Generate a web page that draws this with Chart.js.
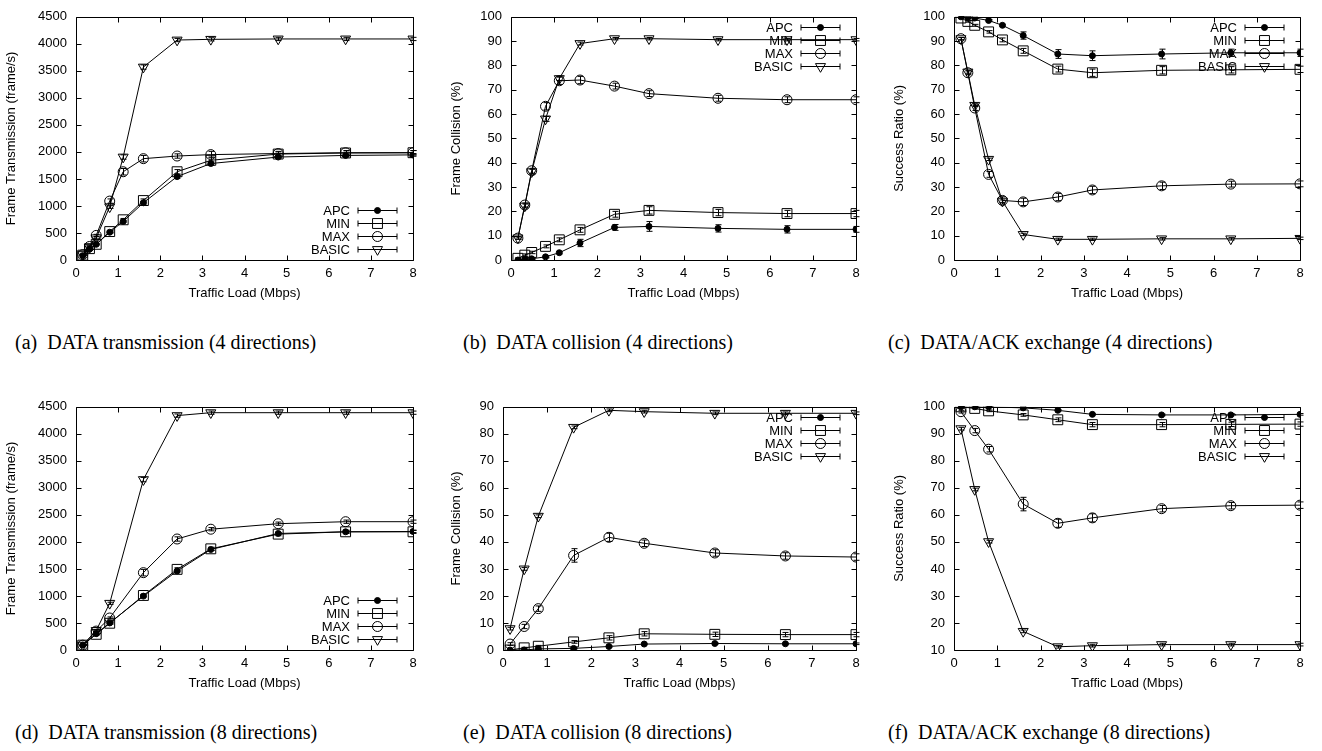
<!DOCTYPE html>
<html>
<head>
<meta charset="utf-8">
<title>APC traffic load results</title>
<script src="https://cdn.jsdelivr.net/npm/chart.js@4.4.1/dist/chart.umd.min.js"></script>
<style>
    body { margin: 0; background: #fff; width: 1322px; height: 751px; position: relative; overflow: hidden; }
    canvas { position: absolute; }
    .caption { position: absolute; font-family: "Liberation Serif", "Times New Roman", serif; font-size: 20px; line-height: 20px; color: #000; white-space: nowrap; }
</style>
</head>
<body>
<canvas id="chartA" width="430" height="310" style="left:0px;top:0px"></canvas>
<canvas id="chartB" width="430" height="310" style="left:445px;top:0px"></canvas>
<canvas id="chartC" width="430" height="310" style="left:888px;top:0px"></canvas>
<canvas id="chartD" width="430" height="310" style="left:0px;top:390px"></canvas>
<canvas id="chartE" width="430" height="310" style="left:445px;top:390px"></canvas>
<canvas id="chartF" width="430" height="310" style="left:888px;top:390px"></canvas>

<div class="caption" style="left:15px;top:332px">(a)&nbsp; DATA transmission (4 directions)</div>
<div class="caption" style="left:463px;top:332px">(b)&nbsp; DATA collision (4 directions)</div>
<div class="caption" style="left:888px;top:332px">(c)&nbsp; DATA/ACK exchange (4 directions)</div>
<div class="caption" style="left:15px;top:722px">(d)&nbsp; DATA transmission (8 directions)</div>
<div class="caption" style="left:463px;top:722px">(e)&nbsp; DATA collision (8 directions)</div>
<div class="caption" style="left:888px;top:722px">(f)&nbsp; DATA/ACK exchange (8 directions)</div>

<script>
// Traffic loads (Mbps)
const loadsFour = [0.16, 0.32, 0.48, 0.8, 1.12, 1.6, 2.4, 3.2, 4.8, 6.4, 8];
const loadsEight = [0.16, 0.48, 0.8, 1.6, 2.4, 3.2, 4.8, 6.4, 8];

const seriesNames = ['APC', 'MIN', 'MAX', 'BASIC'];
const xAxisTitle = 'Traffic Load (Mbps)';

// (a) DATA transmission, 4 directions (frame/s)
const txApc4 = [80, 200, 290, 514, 714, 1059, 1543, 1785, 1905, 1935, 1945];
const txMin4 = [90, 210, 290, 526, 744, 1100, 1633, 1845, 1960, 1980, 1985];
const txMax4 = [100, 250, 455, 1090, 1633, 1875, 1924, 1950, 1970, 1985, 1985];
const txBasic4 = [100, 230, 410, 985, 1905, 3570, 4070, 4083, 4090, 4090, 4090];
const txApc4Err = [5, 10, 10, 15, 20, 25, 30, 30, 25, 25, 25];
const txMin4Err = [5, 10, 10, 20, 25, 30, 40, 60, 40, 40, 40];
const txMax4Err = [10, 15, 20, 40, 60, 60, 40, 60, 40, 40, 40];
const txBasic4Err = [10, 15, 20, 30, 40, 40, 30, 30, 30, 30, 30];

// (b) DATA collision, 4 directions (%)
const colApc4 = [0, 0.3, 0.5, 1.3, 3, 7, 13.4, 13.8, 13, 12.6, 12.6];
const colMin4 = [0.7, 2, 3.1, 5.6, 8.3, 12.4, 18.8, 20.4, 19.5, 19.1, 19.1];
const colMax4 = [9, 22.6, 36.7, 63.2, 73.7, 74, 71.5, 68.4, 66.5, 65.9, 65.9];
const colBasic4 = [9.1, 22.2, 36.3, 58, 74.6, 89, 91, 91, 90.6, 90.6, 90.6];
const colApc4Err = [0.2, 0.2, 0.3, 0.4, 0.5, 1.5, 1.2, 2, 1.5, 1.5, 1.2];
const colMin4Err = [0.3, 0.5, 0.5, 0.6, 0.8, 1, 1.2, 1.5, 1.3, 1.3, 1.3];
const colMax4Err = [0.5, 0.8, 1, 1.5, 1.5, 1.5, 1.2, 1.2, 1.2, 1.2, 1.2];
const colBasic4Err = [0.5, 0.8, 1, 1, 0.8, 0.6, 0.5, 0.5, 0.5, 0.5, 0.5];

// (c) DATA/ACK exchange, 4 directions (%)
const succApc4 = [100, 99.7, 99.5, 98.5, 96.5, 92.3, 84.7, 84, 84.7, 85.2, 85.2];
const succMin4 = [99.5, 98.1, 96.5, 93.8, 90.5, 86, 78.5, 77, 78, 78.2, 78.4];
const succMax4 = [91, 77, 62.5, 35.2, 24.5, 23.9, 25.9, 28.8, 30.5, 31.2, 31.3];
const succBasic4 = [91, 77.3, 63.6, 41.4, 24.2, 10.5, 8.5, 8.5, 8.7, 8.7, 8.9];
const succApc4Err = [0.1, 0.2, 0.2, 0.3, 0.4, 1.5, 1.8, 2, 2, 1.5, 1.5];
const succMin4Err = [0.2, 0.3, 0.4, 0.5, 0.8, 1, 1.2, 1.5, 1.5, 1.3, 1.3];
const succMax4Err = [0.5, 0.8, 1, 1.2, 1.5, 1.5, 1.5, 1.5, 1.5, 1.2, 1.2];
const succBasic4Err = [0.5, 0.5, 0.5, 0.5, 0.5, 0.5, 0.5, 0.5, 0.5, 0.5, 0.5];

// (d) DATA transmission, 8 directions (frame/s)
const txApc8 = [90, 302, 501, 997, 1462, 1860, 2156, 2187, 2193];
const txMin8 = [90, 290, 495, 1009, 1492, 1872, 2144, 2187, 2187];
const txMax8 = [90, 350, 592, 1431, 2054, 2235, 2337, 2374, 2374];
const txBasic8 = [90, 362, 864, 3153, 4337, 4391, 4391, 4391, 4391];
const txApc8Err = [5, 10, 15, 20, 20, 20, 20, 20, 20];
const txMin8Err = [5, 10, 15, 20, 30, 30, 30, 30, 30];
const txMax8Err = [10, 15, 20, 60, 40, 30, 30, 30, 30];
const txBasic8Err = [10, 15, 20, 40, 30, 30, 30, 30, 30];

// (e) DATA collision, 8 directions (%)
const colApc8 = [0, 0, 0.4, 0.6, 1.3, 2.2, 2.4, 2.3, 2.3];
const colMin8 = [0, 0.8, 1.4, 3, 4.5, 6, 5.8, 5.7, 5.7];
const colMax8 = [2.2, 8.7, 15.3, 35, 41.7, 39.5, 35.9, 34.8, 34.4];
const colBasic8 = [7.9, 30, 49.5, 82.4, 88.7, 88.2, 87.6, 87.6, 87.6];
const colApc8Err = [0.1, 0.1, 0.2, 0.2, 0.3, 0.3, 0.3, 0.3, 0.3];
const colMin8Err = [0.2, 0.2, 0.3, 0.5, 0.8, 0.8, 0.8, 0.8, 0.8];
const colMax8Err = [0.5, 0.8, 1, 2.5, 1.5, 1.2, 1.2, 1.2, 1.2];
const colBasic8Err = [0.5, 0.5, 0.5, 0.5, 0.5, 0.5, 0.5, 0.5, 0.5];

// (f) DATA/ACK exchange, 8 directions (%)
const succApc8 = [100, 100, 100, 99.6, 98.7, 97.2, 97, 97, 97.2];
const succMin8 = [100, 99.4, 98.5, 97, 95.2, 93.4, 93.4, 93.5, 93.6];
const succMax8 = [98.2, 91.2, 84.3, 64, 56.9, 58.9, 62.3, 63.4, 63.6];
const succBasic8 = [91.9, 69.4, 50.1, 16.9, 11.2, 11.6, 12, 12, 12];
const succApc8Err = [0.1, 0.1, 0.1, 0.2, 0.3, 0.3, 0.3, 0.3, 0.3];
const succMin8Err = [0.1, 0.2, 0.3, 0.5, 0.7, 0.8, 0.8, 0.8, 0.8];
const succMax8Err = [0.5, 0.8, 1, 2.5, 1.5, 1.5, 1.2, 1.2, 1.2];
const succBasic8Err = [0.5, 0.5, 0.5, 0.5, 0.5, 0.5, 0.5, 0.5, 0.5];

const FONT = '"Liberation Sans", Arial, sans-serif';

// marker look for each series, gnuplot style
const markerStyles = [
    { pointStyle: 'circle', radius: 3, rotation: 0, fill: '#000' },
    { pointStyle: 'rect', radius: 7, rotation: 0, fill: 'rgba(0,0,0,0)' },
    { pointStyle: 'circle', radius: 5, rotation: 0, fill: 'rgba(0,0,0,0)' },
    { pointStyle: 'triangle', radius: 5.8, rotation: 180, fill: 'rgba(0,0,0,0)' }
];

// draws error bars, the frame with inward ticks and the gnuplot style key
const gnuplotFrame = {
    id: 'gnuplotFrame',
    afterDatasetsDraw(chart, args, opts) {
        const { ctx, chartArea: a } = chart;
        const xs = chart.scales.x;
        const ys = chart.scales.y;
        ctx.save();
        ctx.strokeStyle = '#000';
        ctx.lineWidth = 1;

        chart.data.datasets.forEach(ds => {
            ds.errors.forEach((e, j) => {
                const pt = ds.data[j];
                const px = Math.round(xs.getPixelForValue(pt.x)) + 0.5;
                const y1 = ys.getPixelForValue(pt.y - e);
                const y2 = ys.getPixelForValue(pt.y + e);
                ctx.beginPath();
                ctx.moveTo(px, y1); ctx.lineTo(px, y2);
                ctx.moveTo(px - 3, y1); ctx.lineTo(px + 3, y1);
                ctx.moveTo(px - 3, y2); ctx.lineTo(px + 3, y2);
                ctx.stroke();
            });
        });

        const L = Math.round(a.left) + 0.5, R = Math.round(a.right) + 0.5;
        const T = Math.round(a.top) + 0.5, B = Math.round(a.bottom) + 0.5;
        ctx.beginPath();
        ctx.rect(L, T, R - L, B - T);
        xs.ticks.forEach(t => {
            const px = Math.round(xs.getPixelForValue(t.value)) + 0.5;
            ctx.moveTo(px, B); ctx.lineTo(px, B - 5);
            ctx.moveTo(px, T); ctx.lineTo(px, T + 5);
        });
        ys.ticks.forEach(t => {
            const py = Math.round(ys.getPixelForValue(t.value)) + 0.5;
            ctx.moveTo(L, py); ctx.lineTo(L + 5, py);
            ctx.moveTo(R, py); ctx.lineTo(R - 5, py);
        });
        ctx.stroke();

        // key
        const n = chart.data.datasets.length;
        const rowH = 13;
        const firstY = opts.corner === 'top' ? a.top + 10.5 : a.bottom - 11 - (n - 1) * rowH;
        ctx.font = '13px ' + FONT;
        ctx.textAlign = 'right';
        ctx.textBaseline = 'middle';
        ctx.fillStyle = '#000';
        chart.data.datasets.forEach((ds, i) => {
            const y = Math.round(firstY + i * rowH) + 0.5;
            ctx.fillText(ds.label, a.right - 63, y + 0.5);
            const x1 = a.right - 55, x2 = a.right - 16;
            ctx.beginPath();
            ctx.moveTo(x1, y); ctx.lineTo(x2, y);
            ctx.moveTo(x1, y - 3); ctx.lineTo(x1, y + 3);
            ctx.moveTo(x2, y - 3); ctx.lineTo(x2, y + 3);
            ctx.stroke();
            const m = markerStyles[i];
            ctx.fillStyle = m.fill;
            Chart.helpers.drawPoint(ctx, {
                pointStyle: m.pointStyle, radius: m.radius, rotation: m.rotation, borderWidth: 1
            }, (x1 + x2) / 2, y);
            ctx.fillStyle = '#000';
        });
        ctx.restore();
    }
};

function buildDatasets(loads, values, errors) {
    return values.map((ys, i) => {
        const m = markerStyles[i];
        return {
            label: seriesNames[i],
            data: loads.map((x, j) => ({ x: x, y: ys[j] })),
            errors: errors[i],
            borderColor: '#000',
            borderWidth: 1,
            tension: 0,
            pointStyle: m.pointStyle,
            pointRadius: m.radius,
            pointRotation: m.rotation,
            pointBackgroundColor: m.fill,
            pointBorderColor: '#000',
            pointBorderWidth: 1
        };
    });
}

function makeChart(canvasId, opts) {
    const ctx = document.getElementById(canvasId).getContext('2d');
    return new Chart(ctx, {
        type: 'line',
        data: { datasets: buildDatasets(opts.loads, opts.values, opts.errors) },
        options: {
            responsive: false,
            animation: false,
            events: [],
            layout: { padding: { top: 12, right: opts.padRight, bottom: 5, left: 0 } },
            plugins: {
                legend: { display: false },
                tooltip: { enabled: false },
                gnuplotFrame: { corner: opts.corner }
            },
            scales: {
                x: {
                    type: 'linear',
                    min: 0, max: 8,
                    grid: { display: false, drawTicks: false },
                    border: { display: false },
                    ticks: { stepSize: 1, padding: 6, color: '#000', font: { family: FONT, size: 13 }, maxRotation: 0,
                        callback: value => String(value) },
                    title: { display: true, text: xAxisTitle, color: '#000', font: { family: FONT, size: 13 }, padding: { top: 4, bottom: 4 } },
                    afterFit: scale => { scale.height = 45; }
                },
                y: {
                    min: opts.yMin, max: opts.yMax,
                    grid: { display: false, drawTicks: false },
                    border: { display: false },
                    ticks: { stepSize: opts.yStep, padding: 9, color: '#000', font: { family: FONT, size: 13 },
                        callback: value => String(value) },
                    title: { display: true, text: opts.yTitle, color: '#000', font: { family: FONT, size: 13 }, padding: { top: 4, bottom: 4 } },
                    afterFit: scale => { scale.width = opts.yWidth; }
                }
            }
        },
        plugins: [gnuplotFrame]
    });
}

document.addEventListener('DOMContentLoaded', function() {
    makeChart('chartA', {
        loads: loadsFour,
        values: [txApc4, txMin4, txMax4, txBasic4],
        errors: [txApc4Err, txMin4Err, txMax4Err, txBasic4Err],
        yMin: 0, yMax: 4500, yStep: 500, yWidth: 76, padRight: 17,
        yTitle: 'Frame Transmission (frame/s)', corner: 'bottom'
    });
    makeChart('chartB', {
        loads: loadsFour,
        values: [colApc4, colMin4, colMax4, colBasic4],
        errors: [colApc4Err, colMin4Err, colMax4Err, colBasic4Err],
        yMin: 0, yMax: 100, yStep: 10, yWidth: 66, padRight: 19,
        yTitle: 'Frame Collision (%)', corner: 'top'
    });
    makeChart('chartC', {
        loads: loadsFour,
        values: [succApc4, succMin4, succMax4, succBasic4],
        errors: [succApc4Err, succMin4Err, succMax4Err, succBasic4Err],
        yMin: 0, yMax: 100, yStep: 10, yWidth: 66, padRight: 18,
        yTitle: 'Success Ratio (%)', corner: 'top'
    });
    makeChart('chartD', {
        loads: loadsEight,
        values: [txApc8, txMin8, txMax8, txBasic8],
        errors: [txApc8Err, txMin8Err, txMax8Err, txBasic8Err],
        yMin: 0, yMax: 4500, yStep: 500, yWidth: 76, padRight: 17,
        yTitle: 'Frame Transmission (frame/s)', corner: 'bottom'
    });
    makeChart('chartE', {
        loads: loadsEight,
        values: [colApc8, colMin8, colMax8, colBasic8],
        errors: [colApc8Err, colMin8Err, colMax8Err, colBasic8Err],
        yMin: 0, yMax: 90, yStep: 10, yWidth: 58, padRight: 19,
        yTitle: 'Frame Collision (%)', corner: 'top'
    });
    makeChart('chartF', {
        loads: loadsEight,
        values: [succApc8, succMin8, succMax8, succBasic8],
        errors: [succApc8Err, succMin8Err, succMax8Err, succBasic8Err],
        yMin: 10, yMax: 100, yStep: 10, yWidth: 66, padRight: 18,
        yTitle: 'Success Ratio (%)', corner: 'top'
    });
});
</script>
</body>
</html>
